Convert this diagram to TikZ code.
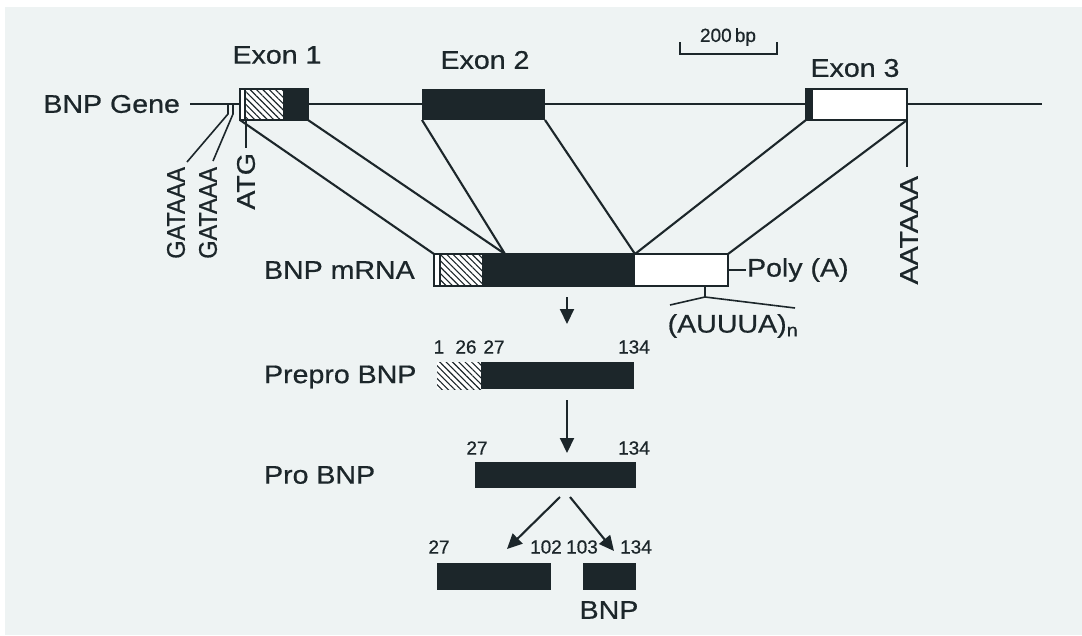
\documentclass[tikz,border=0pt]{standalone}
\usepackage{fontspec}
\setmainfont[FakeStretch=1.12,FakeBold=0.6]{Liberation Sans}
\newfontfamily\condfont[FakeStretch=0.92,FakeBold=0.6]{Liberation Sans}
\newfontfamily\digitfont[FakeBold=0.6]{Liberation Sans}
\usetikzlibrary{arrows.meta,patterns.meta}
\definecolor{ink}{RGB}{28,38,42}
\definecolor{paper}{RGB}{238,243,243}
\newcommand{\lblsize}{\fontsize{25.5}{29}\selectfont}
\newcommand{\numsize}{\fontsize{19}{22}\selectfont\digitfont}

\begin{document}
\begin{tikzpicture}[x=1pt,y=-1pt,color=ink,line width=2.1pt,
    lbl/.style={font=\lblsize,inner sep=0pt},
    num/.style={font=\numsize,inner sep=0pt},
    site/.style={font=\lblsize,inner sep=0pt,rotate=90,anchor=east},
    thin/.style={line width=1.6pt},
    hatch/.style={fill=white,postaction={pattern={Lines[angle=-45,distance=4.5pt,line width=1.1pt]},pattern color=ink}},
    stage/.style={-{Triangle[length=15pt,width=14pt]}}]
        % page
        \fill[paper] (5,7) rectangle (1082,635);
        \useasboundingbox (0,0) rectangle (1082,635);
        % gene with three exons
        \coordinate (g0) at (190,104); \coordinate (g1) at (1042,104);
        \draw (g0) -- (g1);
        \node[lbl,anchor=east] (gene) at (181,104) {BNP Gene};
        \fill[white] (240,89) rectangle (245,120);
        \path[hatch] (245,89) rectangle (283,120);
        \fill (283,89) rectangle (308,120);
        \draw[thin] (240,89) rectangle (308,120);
        \draw[thin] (245,89) -- (245,120);
        \fill (422,89) rectangle (545,120);
        \draw[thin,fill=white] (806,89) rectangle (907,120);
        \fill (806,89) rectangle (813,120);
        \node[lbl] (ex1) at (277,55) {Exon 1};
        \node[lbl] (ex2) at (485,60) {Exon 2};
        \node[lbl] (ex3) at (855,68) {Exon 3};
        % scale bar
        \draw[thin] (680,42) -- (680,54) -- (777,54) -- (777,42);
        \node[num] (bar) at (728,37) {200\,bp};
        % promoter sites
        \coordinate (t1) at (228,104); \coordinate (t1b) at (228,114);
        \coordinate (t2) at (233,104); \coordinate (t2b) at (233,114);
        \coordinate (atg) at (246,120);
        \node[site,font=\lblsize\condfont] (gat1) at (176,166) {GATAAA};
        \node[site,font=\lblsize\condfont] (gat2) at (208,166) {GATAAA};
        \node[site] (atgl) at (246,152) {ATG};
        \draw[thin] (t1) -- (t1b) -- (187,162);
        \draw[thin] (t2) -- (t2b) -- (213,161);
        \draw[thin] (atg) -- (246,148);
        \coordinate (ex3e) at (907,120);
        \node[site] (aat) at (909,175) {AATAAA};
        \draw[thin] (ex3e) -- (907,167);
        % splicing
        \coordinate (ex1a) at (240,120); \coordinate (ex1b) at (308,120);
        \coordinate (ex2a) at (422,120); \coordinate (ex2b) at (545,120);
        \coordinate (ex3a) at (806,120);
        \coordinate (m0) at (434,254); \coordinate (m1) at (505,254);
        \coordinate (m2) at (635,254); \coordinate (m3) at (728,254);
        \draw (ex1a) -- (m0);
        \draw (ex1b) -- (m1) -- (ex2a);
        \draw (ex2b) -- (m2) -- (ex3a);
        \draw (ex3e) -- (m3);
        % mRNA
        \node[lbl,anchor=west] (mrna) at (263,270) {BNP mRNA};
        \fill[white] (434,254) rectangle (728,286);
        \path[hatch] (440,254) rectangle (482,286);
        \fill (482,254) rectangle (635,286);
        \draw[thin] (434,254) rectangle (728,286);
        \draw[thin] (440,254) -- (440,286);
        \node[lbl,anchor=west] (polya) at (746,270) {Poly (A)};
        \draw[thin] (728,270) -- (polya.west);
        \coordinate (au) at (705,286); \coordinate (aub) at (705,297);
        \draw[thin] (au) -- (aub);
        \draw[thin] (670,305) -- (aub) -- (795,308);
        \node[lbl] (auuua) at (733,326) {(AUUUA)\textsubscript{n}};
        % prepro BNP
        \coordinate (s1) at (567,297); \coordinate (s1e) at (567,324);
        \draw[stage] (s1) -- (s1e);
        \node[lbl,anchor=west] (prepro) at (263,377) {Prepro BNP};
        \path[hatch] (437,362) rectangle (481,389);
        \fill (481,362) rectangle (634,389);
        \node[num] (n1) at (439,347) {1};
        \node[num] (n26) at (466,347) {26};
        \node[num] (n27) at (494,347) {27};
        \node[num] (n134) at (634,347) {134};
        % pro BNP
        \coordinate (s2) at (567,400); \coordinate (s2e) at (567,453);
        \draw[stage] (s2) -- (s2e);
        \node[lbl,anchor=west] (pro) at (263,475) {Pro BNP};
        \fill (475,462) rectangle (636,488);
        \node[num] (p27) at (477,448) {27};
        \node[num] (p134) at (634,448) {134};
        % cleavage
        \coordinate (c0) at (560,497); \coordinate (c1) at (507,549);
        \coordinate (d0) at (570,497); \coordinate (d1) at (614,551);
        \draw[stage] (c0) -- (c1);
        \draw[stage] (d0) -- (d1);
        \fill (437,563) rectangle (551,590);
        \fill (583,563) rectangle (636,590);
        \node[num] (q27) at (439,547) {27};
        \node[num] (q102) at (546,547) {102};
        \node[num] (q103) at (582,547) {103};
        \node[num] (q134) at (636,547) {134};
        \node[lbl] (bnp) at (609,610) {BNP};
      \end{tikzpicture}
\end{document}
